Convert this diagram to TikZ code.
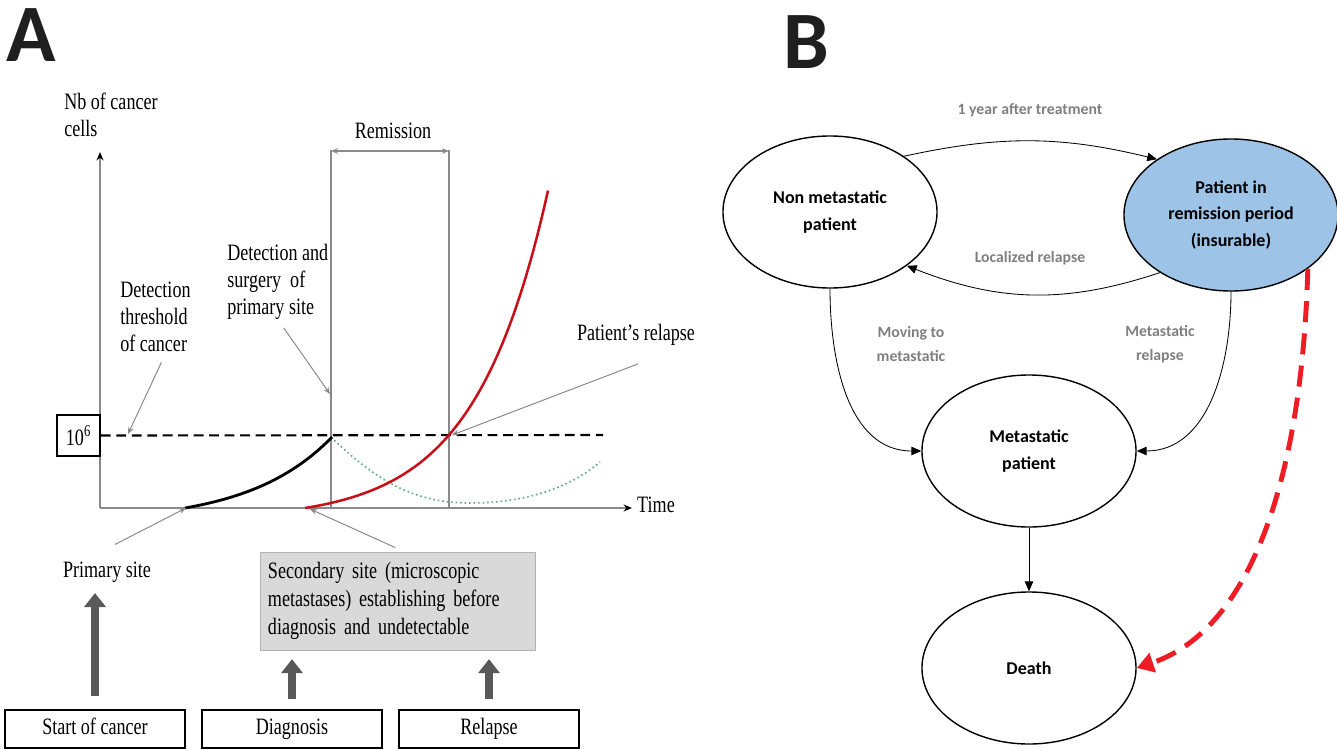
\documentclass[tikz,border=0pt]{standalone}
\usepackage{fontspec}
\setmainfont{Liberation Serif}
\newfontfamily\timesn[FakeStretch=0.77]{Liberation Serif}
\newfontfamily\calib{Carlito}
\usetikzlibrary{shapes.geometric,arrows.meta}
\definecolor{remblue}{HTML}{9DC3E6}
\definecolor{lblgray}{HTML}{7F7F7F}
\definecolor{axgray}{HTML}{8A8A8A}
\definecolor{boxgray}{HTML}{D9D9D9}
\definecolor{arrgray}{HTML}{595959}
\definecolor{relred}{HTML}{C8101A}
\definecolor{dashred}{HTML}{EE1C25}
\definecolor{dotgreen}{HTML}{6AAE84}
\tikzset{
  txt/.style={font=\timesn\fontsize{16.7}{19.2}\selectfont, align=left, inner sep=0pt},
  state/.style={ellipse, draw, line width=1pt, minimum width=5.35cm, minimum height=3.8cm, inner sep=0pt,
    font=\calib\bfseries\fontsize{12.8}{18.8}\selectfont, align=center, text=black},
  trans/.style={font=\calib\bfseries\fontsize{11.2}{17}\selectfont, text=lblgray, align=center},
  link/.style={-{Triangle[length=7pt,width=6pt]}, line width=0.6pt},
  pointer/.style={-{Stealth[length=5pt,width=4pt]}, draw=axgray, line width=0.7pt},
  event/.style={draw, line width=1.2pt, minimum width=4.5cm, minimum height=0.95cm,
    text height=11pt, text depth=3pt, font=\timesn\fontsize{16.7}{19.2}\selectfont},
  bigarrow/.style={-{Triangle[length=10pt,width=15pt]}, line width=6pt, draw=arrgray},
  panel/.style={font=\calib\bfseries\fontsize{58}{58}\selectfont, text=black!88}
}
\begin{document}
\begin{tikzpicture}[x=0.025cm, y=-0.025cm]
\useasboundingbox (0,0) rectangle (1337,750);
\node[panel] (pa) at (31,35) {A};
\node[panel] (pb) at (806,42) {B};

% panel A
\coordinate (O) at (100,508);
\coordinate (ytop) at (100,152);
\coordinate (xend) at (632,508);
\draw[axgray, line width=1pt, -{Stealth[length=6pt,width=5pt,color=black]}] (O) -- (ytop);
\draw[axgray, line width=1pt, -{Stealth[length=6pt,width=5pt,color=black]}] (O) -- (xend);
\node[txt, anchor=north west] (ylab) at (64,93) {Nb of cancer\\cells};
\node[txt] (time) at (656,505) {Time};

\node[draw, line width=1.2pt, minimum width=1.075cm, minimum height=1.025cm, inner sep=0pt,
  font=\timesn\fontsize{16.7}{19.2}\selectfont] (thr) at (78.5,435.5) {10\textsuperscript{6}};
\draw[line width=1.5pt, dash pattern=on 7pt off 4pt] (thr.east) -- (603,435);

\coordinate (diagx) at (331,508);
\coordinate (relx) at (449,508);
\draw[axgray, line width=1pt] (diagx) -- (331,150);
\draw[axgray, line width=1pt] (relx) -- (449,150);
\draw[axgray, line width=0.8pt, {Stealth[length=5pt,width=4pt]}-{Stealth[length=5pt,width=4pt]}] (331,151) -- (449,151);
\node[txt] (remis) at (393,131) {Remission};

\draw[dotgreen, line width=1.2pt, dotted] (331,437) .. controls (385,490) and (425,503) .. (470,503)
  .. controls (525,503) and (570,488) .. (600,462);
\draw[line width=2pt] plot[domain=185:332, samples=50] (\x, {508-14.68*(exp(0.012*(\x-185))-1)});
\draw[relred, line width=1.8pt] plot[domain=305:548, samples=70] (\x, {508-11.79*(exp(0.0137*(\x-305))-1)});

\node[txt, anchor=north west] (dthr) at (120,282) {Detection\\threshold\\of cancer};
\node[txt, anchor=north west] (dsurg) at (227,244) {Detection and\\surgery~ of\\primary site};
\node[txt] (prel) at (636,335) {Patient’s relapse};
\coordinate (thrpt) at (128,434);
\coordinate (surgpt) at (330,394);
\coordinate (relpt) at (452,435);
\draw[pointer] ([shift={(6,10)}]dthr.south) -- (thrpt);
\draw[pointer] ([shift={(6,8)}]dsurg.south) -- (surgpt);
\draw[pointer] ([shift={(2,18)}]prel.south) -- (relpt);

\node[txt] (prim) at (107,572) {Primary site};
\node[draw=gray!60, fill=boxgray, minimum width=6.875cm, minimum height=2.45cm, inner sep=0pt,
  font=\timesn\fontsize{16.7}{19.8}\selectfont, align=left, text width=6.475cm] (sec) at (397.5,601)
  {Secondary site (microscopic\\metastases) establishing before\\diagnosis and undetectable};
\coordinate (primpt) at (186,508);
\coordinate (secpt) at (310,509);
\draw[pointer] ([shift={(8,-17)}]prim.north) -- (primpt);
\draw[pointer] ([shift={(-2,-4)}]sec.north) -- (secpt);

\node[event] (startc) at (95,729) {Start of cancer};
\node[event] (diag) at (292,729) {Diagnosis};
\node[event] (relap) at (489,729) {Relapse};
\draw[bigarrow] ([yshift=0.33cm]startc.north) -- (95,593);
\draw[bigarrow] ([yshift=0.25cm]diag.north) -- ++(0,-40);
\draw[bigarrow] ([yshift=0.25cm]relap.north) -- ++(0,-40);

% panel B
\node[state] (nm) at (830,212) {Non metastatic\\patient};
\node[state, fill=remblue] (rem) at (1231,215) {Patient in\\remission period\\(insurable)};
\node[state] (met) at (1029,451) {Metastatic\\patient};
\node[state] (dth) at (1029,668) {Death};

\draw[link] (nm.37) to[bend left=13] (rem.143);
\draw[link] (rem.219) to[bend left=20] (nm.325);
\draw[link] (nm.south) to[out=-90, in=180] (met.west);
\draw[link] (rem.south) to[out=-90, in=0] (met.east);
\draw[link] (met) -- (dth);
\draw[dashred, line width=3.5pt, dash pattern=on 15pt off 8pt, -{Triangle[length=12pt,width=14pt]}]
  (rem.-35) .. controls (1302,480) and (1250,630) .. (dth.east);

\node[trans] (lyear) at (1030,110) {1 year after treatment};
\node[trans] (lloc) at (1030,258) {Localized relapse};
\node[trans] (lmove) at (911,344) {Moving to\\metastatic};
\node[trans] (lmrel) at (1160,344) {Metastatic\\relapse};
\end{tikzpicture}
\end{document}
